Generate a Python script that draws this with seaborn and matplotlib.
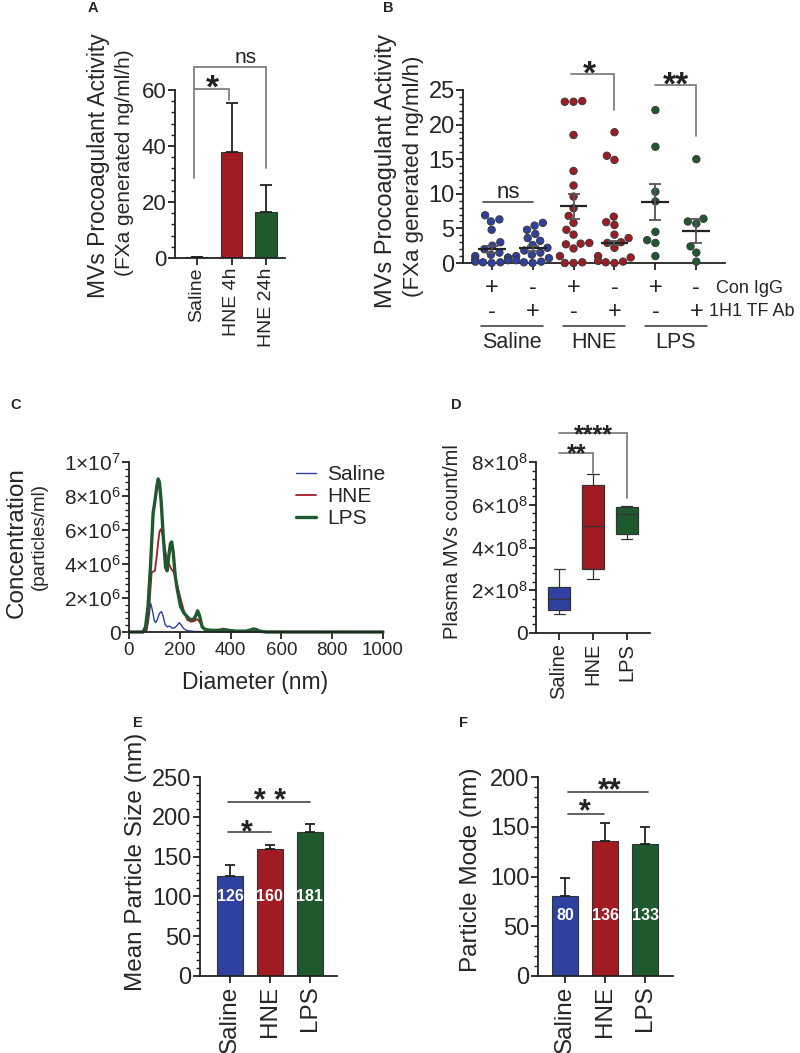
import numpy as np
import pandas as pd
import matplotlib
matplotlib.use('Agg')
import matplotlib.pyplot as plt
import matplotlib.transforms as mtransforms
from matplotlib.ticker import MultipleLocator, FuncFormatter
import seaborn as sns

BLUE = '#2e40a0'
RED = '#a01b22'
GREEN = '#1e5a2d'
EDGE = '#333333'

# ---- panel A: procoagulant activity, bars
a_groups = ['Saline', 'HNE 4h', 'HNE 24h']
a_mean = [0.3, 38.0, 16.5]
a_sem = [0.2, 17.5, 9.5]

# ---- panel B: individual points with mean +/- SEM
b_con_igg = ['+', '-', '+', '-', '+', '-']
b_tf_ab = ['-', '+', '-', '+', '-', '+']
b_treatments = ['Saline', 'HNE', 'LPS']
b_points = [
    [6.9, 6.3, 6.0, 4.8, 3.0, 2.5, 2.0, 1.5, 1.2, 1.0, 0.8, 0.5, 0.4, 0.2, 0.1, 0.1, 0.0],
    [5.8, 5.4, 4.8, 4.2, 3.6, 3.2, 2.6, 2.2, 1.8, 1.5, 1.2, 1.0, 0.7, 0.4, 0.2, 0.1, 0.0],
    [23.4, 23.3, 23.3, 18.5, 13.3, 11.2, 9.6, 7.9, 6.8, 5.8, 4.8, 4.1, 2.9, 2.8,
     2.7, 2.1, 1.0, 0.1, 0.0, 0.0],
    [18.9, 15.5, 14.9, 6.7, 5.9, 5.5, 4.1, 3.6, 3.0, 2.9, 2.2, 1.0, 0.8, 0.3, 0.2, 0.1, 0.0],
    [22.1, 16.8, 10.3, 8.9, 4.5, 3.3, 2.9, 1.0],
    [15.0, 6.4, 6.0, 5.7, 2.4, 1.5, 0.2],
]
b_mean = [2.0, 2.1, 8.2, 2.9, 8.8, 4.6]
b_sem = [0.5, 0.4, 1.8, 0.35, 2.6, 1.7]

# ---- panel C: NTA size distributions (concentration in 1e6 particles/ml)
c_saline_d = [0, 60, 70, 78, 85, 92, 99, 105, 112, 120, 128, 135, 142, 150, 160, 170,
              180, 190, 198, 206, 215, 229, 260, 300, 400, 1000]
c_saline_c = [0, 0, 0.1, 0.8, 1.7, 1.3, 0.7, 0.55, 0.75, 1.1, 1.2, 0.9, 0.45, 0.3, 0.35,
              0.22, 0.25, 0.4, 0.55, 0.4, 0.2, 0.08, 0.03, 0.02, 0.0, 0.0]
c_hne_d = [0, 60, 70, 80, 89, 95, 102, 108, 115, 120, 125, 131, 137, 145, 157, 167, 177,
           186, 196, 206, 216, 229, 245, 258, 268, 278, 294, 310, 340, 360, 372, 385,
           420, 500, 1000]
c_hne_c = [0, 0, 0.2, 1.5, 3.5, 3.55, 3.6, 4.3, 5.3, 5.9, 6.05, 5.8, 5.3, 4.6, 4.0, 3.7,
           3.5, 3.0, 2.4, 1.8, 1.25, 0.72, 0.6, 0.65, 0.76, 0.6, 0.18, 0.1, 0.08, 0.15,
           0.2, 0.15, 0.05, 0.02, 0]
c_lps_d = [0, 55, 65, 75, 85, 95, 102, 110, 115, 120, 127, 135, 144, 150, 157, 163, 168,
           174, 182, 190, 203, 215, 229, 242, 255, 264, 270, 277, 288, 300, 320, 350, 380,
           420, 460, 480, 490, 500, 515, 540, 600, 1000]
c_lps_c = [0, 0, 0.3, 1.5, 4.0, 7.0, 7.7, 8.6, 9.0, 8.8, 7.6, 5.6, 3.8, 3.6, 4.5, 5.2,
           5.3, 4.7, 3.3, 2.5, 1.5, 1.15, 0.9, 0.72, 0.75, 1.0, 1.25, 1.0, 0.3, 0.15, 0.1,
           0.1, 0.12, 0.05, 0.05, 0.12, 0.18, 0.15, 0.05, 0, 0, 0]

# ---- panel D: box stats (whisker low, q1, median, q3, whisker high)
d_groups = ['Saline', 'HNE', 'LPS']
d_box = [
    [0.90e8, 1.09e8, 1.58e8, 2.14e8, 2.98e8],
    [2.52e8, 2.98e8, 5.00e8, 6.94e8, 7.42e8],
    [4.39e8, 4.63e8, 5.59e8, 5.89e8, 5.93e8],
]

# ---- panels E, F
e_groups = ['Saline', 'HNE', 'LPS']
e_mean = [126, 160, 181]
e_sem = [13.5, 5.0, 9.5]
f_mean = [80, 136, 133]
f_sem = [18.0, 17.5, 17.0]

three_colors = [BLUE, RED, GREEN]

sns.set_style('ticks')
plt.rcParams['font.family'] = ['Liberation Sans', 'DejaVu Sans']
plt.rcParams['mathtext.fontset'] = 'custom'
plt.rcParams['mathtext.rm'] = 'Liberation Sans'
plt.rcParams['mathtext.it'] = 'Liberation Sans:italic'
plt.rcParams['mathtext.bf'] = 'Liberation Sans:bold'

W, H = 800, 1053
fig = plt.figure(figsize=(W / 100, H / 100), dpi=100)


def add_ax(left, top, right, bottom):
    return fig.add_axes([left / W, 1 - bottom / H, (right - left) / W, (bottom - top) / H])


def fig_text(x, y, s, **kw):
    kw.setdefault('ha', 'center')
    kw.setdefault('va', 'center')
    fig.text(x / W, 1 - y / H, s, **kw)


def style_axis(ax, ysize, xsize):
    sns.despine(ax=ax)
    for sp in ax.spines.values():
        sp.set_linewidth(1.3)
        sp.set_color('#222222')
    ax.tick_params(axis='both', which='major', length=5, width=1.3, color='#222222')
    ax.tick_params(axis='y', labelsize=ysize, pad=1)
    ax.tick_params(axis='x', labelsize=xsize, pad=2)
    ax.tick_params(which='minor', length=3, width=1.0, color='#222222')
    ax.set_xlabel('')
    ax.set_ylabel('')


def bracket(ax, x1, x2, y, left_drop=None, right_drop=None, color='#808080', lw=1.3):
    xs = [x1, x1, x2, x2]
    ys = [y if left_drop is None else left_drop, y, y, y if right_drop is None else right_drop]
    ax.plot(xs, ys, color=color, lw=lw, clip_on=False, solid_joinstyle='miter')


def stars(ax, x, y, s, size=22):
    ax.text(x, y, s, ha='center', va='center', fontsize=size, fontweight='bold',
            color='#222222', clip_on=False)


def sci_fmt(v, pos):
    if abs(v) < 1:
        return '0'
    if v < 0:
        return ''
    e = int(np.floor(np.log10(v) + 1e-9))
    m = v / 10 ** e
    return f'{m:.0f}×10$^{{{e}}}$'


def bar_panel(ax, groups, mean, sem, width, capsize):
    sns.barplot(x=groups, y=mean, hue=groups, palette=three_colors, legend=False,
                errorbar=None, width=width, saturation=1, edgecolor=EDGE, linewidth=0.8, ax=ax)
    xs = np.arange(len(groups))
    ax.errorbar(xs, mean, yerr=[np.zeros(len(groups)), sem], fmt='none', ecolor='#222222',
                elinewidth=1.3, capsize=capsize, capthick=1.3, zorder=5)


# ================= Panel A
ax = add_ax(175, 90, 285, 258)
bar_panel(ax, a_groups, a_mean, a_sem, 0.62, 4.5)
ax.set_ylim(0, 60)
ax.set_xlim(-0.64, 2.55)
ax.yaxis.set_major_locator(MultipleLocator(20))
ax.yaxis.set_minor_locator(MultipleLocator(4))
style_axis(ax, 16, 14)
ax.set_xticks(range(3))
ax.set_xticklabels(a_groups, rotation=90)
bracket(ax, -0.09, 2.0, 68.2, left_drop=28.6, right_drop=32.0)
bracket(ax, -0.09, 0.93, 60.4, right_drop=56.4)
stars(ax, 0.45, 60.3, '*', 24)
ax.text(1.4, 71.5, 'ns', ha='center', va='center', fontsize=15, color='#222222')
fig_text(99, 166, 'MVs Procoagulant Activity', rotation=90, fontsize=16.5)
fig_text(125, 163, '(FXa generated ng/ml/h)', rotation=90, fontsize=15)

# ================= Panel B
ax = add_ax(463, 90, 725, 263)
b_names = [f'{t} {c}{a}' for t in b_treatments for c, a in [('+', '-'), ('-', '+')]]
b_colors = [BLUE, BLUE, RED, RED, GREEN, GREEN]
b_df = pd.DataFrame({
    'group': [b_names[i] for i, pts in enumerate(b_points) for _ in pts],
    'value': [v for pts in b_points for v in pts],
})
sns.swarmplot(data=b_df, x='group', y='value', hue='group', order=b_names,
              hue_order=b_names, palette=b_colors, size=5.3, edgecolor='#3a3a3a',
              linewidth=0.7, legend=False, ax=ax, clip_on=False, zorder=3)
bx = np.arange(len(b_names))
ax.hlines(b_mean, bx - 0.34, bx + 0.34, color='#222222', lw=1.6, zorder=6)
ax.errorbar(bx, b_mean, yerr=b_sem, fmt='none', ecolor='#555555', elinewidth=1.3,
            capsize=4.5, capthick=1.3, zorder=6)
ax.set_ylim(0, 25)
ax.set_xlim(-0.7, 5.7)
ax.yaxis.set_major_locator(MultipleLocator(5))
ax.yaxis.set_minor_locator(MultipleLocator(1))
style_axis(ax, 17, 10)
ax.set_xticks(bx)
ax.set_xticklabels([''] * len(bx))
bracket(ax, -0.22, 1.0, 8.8, color='#555555')
ax.text(0.4, 10.2, 'ns', ha='center', va='center', fontsize=16, color='#222222')
bracket(ax, 1.94, 3.0, 27.3, right_drop=22.1)
stars(ax, 2.4, 27.2, '*', 24)
bracket(ax, 4.0, 5.0, 25.7, right_drop=18.3)
stars(ax, 4.5, 25.6, '**', 24)
tr = mtransforms.blended_transform_factory(ax.transData, ax.transAxes)
for i in range(len(bx)):
    ax.text(i, -0.145, b_con_igg[i], transform=tr, ha='center', va='center', fontsize=17)
    ax.text(i, -0.283, b_tf_ab[i], transform=tr, ha='center', va='center', fontsize=17)
ax.text(5.47, -0.145, 'Con IgG', transform=tr, ha='left', va='center', fontsize=13)
ax.text(5.3, -0.283, '1H1 TF Ab', transform=tr, ha='left', va='center', fontsize=13)
for k, name in enumerate(b_treatments):
    ax.plot([2 * k - 0.26, 2 * k + 1.26], [-0.364, -0.364], transform=tr, clip_on=False,
            color='#333333', lw=1.1)
    ax.text(2 * k + 0.5, -0.462, name, transform=tr, ha='center', va='center', fontsize=15.5)
fig_text(386, 171, 'MVs Procoagulant Activity', rotation=90, fontsize=17)
fig_text(413, 176, '(FXa generated ng/ml/h)', rotation=90, fontsize=16)

# ================= Panel C
ax = add_ax(129, 462, 383, 632)
c_df = pd.concat([
    pd.DataFrame({'diameter': c_saline_d, 'conc': np.array(c_saline_c) * 1e6, 'group': 'Saline'}),
    pd.DataFrame({'diameter': c_hne_d, 'conc': np.array(c_hne_c) * 1e6, 'group': 'HNE'}),
    pd.DataFrame({'diameter': c_lps_d, 'conc': np.array(c_lps_c) * 1e6, 'group': 'LPS'}),
])
for name, col, lw in [('Saline', BLUE, 1.0), ('HNE', RED, 1.3), ('LPS', GREEN, 2.4)]:
    sns.lineplot(data=c_df[c_df['group'] == name], x='diameter', y='conc', color=col,
                 lw=lw, label=name, ax=ax, clip_on=False)
ax.set_xlim(0, 1000)
ax.set_ylim(0, 1e7)
ax.xaxis.set_major_locator(MultipleLocator(200))
ax.yaxis.set_major_locator(MultipleLocator(2e6))
ax.yaxis.set_minor_locator(MultipleLocator(4e5))
ax.yaxis.set_major_formatter(FuncFormatter(sci_fmt))
style_axis(ax, 15, 13.5)
ax.legend(loc='upper left', bbox_to_anchor=(0.625, 1.03), frameon=False, fontsize=15,
          handlelength=0.95, handletextpad=0.55, labelspacing=0.15, borderaxespad=0)
fig_text(255, 683, 'Diameter (nm)', fontsize=16.5)
fig_text(17, 543, 'Concentration', rotation=90, fontsize=17.5)
fig_text(39, 537, '(particles/ml)', rotation=90, fontsize=13.5)

# ================= Panel D
ax = add_ax(536, 462, 650, 633)
d_df = pd.DataFrame({
    'group': [g for g, stats in zip(d_groups, d_box) for _ in stats],
    'value': [v for stats in d_box for v in stats],
})
sns.boxplot(data=d_df, x='group', y='value', hue='group', order=d_groups,
            palette=three_colors, whis=(0, 100), width=0.65, saturation=1,
            linecolor=EDGE, linewidth=0.9, legend=False, fliersize=0, ax=ax)
ax.set_ylim(0, 8e8)
ax.set_xlim(-0.68, 2.68)
ax.yaxis.set_major_locator(MultipleLocator(2e8))
ax.yaxis.set_minor_locator(MultipleLocator(4e7))
ax.yaxis.set_major_formatter(FuncFormatter(sci_fmt))
style_axis(ax, 15, 14.5)
ax.set_xticks(range(3))
ax.set_xticklabels(d_groups, rotation=90)
bracket(ax, 0.0, 1.0, 8.42e8, right_drop=7.49e8)
stars(ax, 0.53, 8.36e8, '**', 18)
bracket(ax, 0.0, 2.0, 9.36e8, right_drop=6.32e8)
stars(ax, 1.0, 9.27e8, '****', 18)
fig_text(453, 542, 'Plasma MVs count/ml', rotation=90, fontsize=14.5)

# ================= Panel E
ax = add_ax(200, 777, 337, 976)
bar_panel(ax, e_groups, e_mean, e_sem, 0.65, 3.8)
ax.set_ylim(0, 250)
ax.set_xlim(-0.75, 2.68)
ax.yaxis.set_major_locator(MultipleLocator(50))
ax.yaxis.set_minor_locator(MultipleLocator(10))
style_axis(ax, 17, 17.5)
ax.set_xticks(range(3))
ax.set_xticklabels(e_groups, rotation=90)
for i, v in enumerate(e_mean):
    ax.text(i, 100, f'{v:.0f}', ha='center', va='center', color='white',
            fontsize=11.5, fontweight='bold')
bracket(ax, -0.05, 1.03, 181.5, color='#555555')
stars(ax, 0.42, 179, '*', 22)
bracket(ax, -0.05, 2.0, 219, color='#555555')
stars(ax, 1.0, 218.7, '* *', 22)
fig_text(136, 862, 'Mean Particle Size (nm)', rotation=90, fontsize=17.5)

# ================= Panel F
ax = add_ax(538, 777, 673, 976)
bar_panel(ax, e_groups, f_mean, f_sem, 0.65, 3.8)
ax.set_ylim(0, 200)
ax.set_xlim(-0.68, 2.7)
ax.yaxis.set_major_locator(MultipleLocator(50))
ax.yaxis.set_minor_locator(MultipleLocator(10))
style_axis(ax, 17, 17.5)
ax.set_xticks(range(3))
ax.set_xticklabels(e_groups, rotation=90)
for i, v in enumerate(f_mean):
    ax.text(i, 61, f'{v:.0f}', ha='center', va='center', color='white',
            fontsize=11.5, fontweight='bold')
bracket(ax, 0.08, 0.98, 162.7, color='#555555')
stars(ax, 0.5, 165, '*', 22)
bracket(ax, 0.08, 2.08, 184.5, color='#555555')
stars(ax, 1.12, 186, '**', 22)
fig_text(471, 870, 'Particle Mode (nm)', rotation=90, fontsize=17.5)

# ================= panel letters
for letter, x, y in [('A', 93, 8), ('B', 388, 8), ('C', 16, 405), ('D', 456, 405),
                     ('E', 138, 723), ('F', 464, 723)]:
    fig_text(x, y, letter, fontsize=10.5, fontweight='bold')

fig.savefig('out.png', dpi=100, facecolor='white')
